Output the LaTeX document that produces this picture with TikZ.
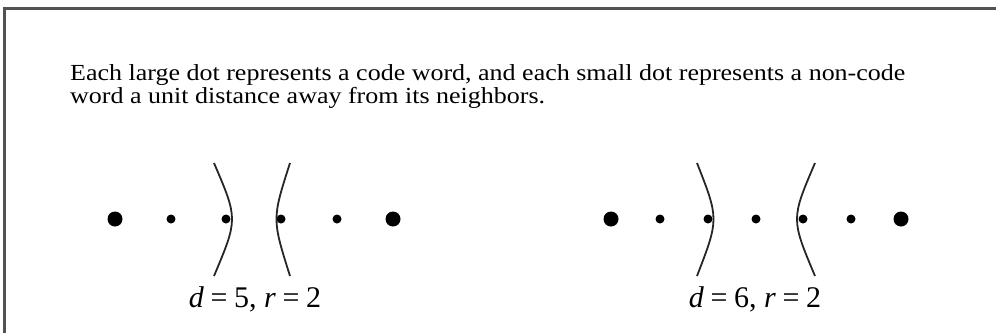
\documentclass[tikz,border=0pt]{standalone}
\usepackage{fontspec}
\setmainfont{Liberation Serif}
\usetikzlibrary{calc,positioning}

\begin{document}
\begin{tikzpicture}[
  x=1pt, y=-1pt,
  frameline/.style={draw=black!68, line width=3pt},
  bigdot/.style={circle, fill=black, inner sep=0pt, minimum size=15pt},
  smalldot/.style={circle, fill=black, inner sep=0pt, minimum size=9pt},
  bound/.style={draw=black!85, line width=1.8pt},
  caption/.style={font=\fontsize{23}{25}\selectfont, anchor=base west, inner sep=0pt},
  lbl/.style={font=\fontsize{30}{32}\selectfont, anchor=base, inner sep=0pt},
]
\useasboundingbox (0,0) rectangle (996,333);

% Frame (top and left edges only)
\draw[frameline] (4,333) -- (4,8) -- (996,8);

% Caption
\node[caption] (text1) at (70,80) {\scalebox{1.13}[1]{Each large dot represents a code word, and each small dot represents a non-code}};
\node[caption] (text2) at (70,103) {\scalebox{1.13}[1]{word a unit distance away from its neighbors.}};

% Left row, d=5
\node[bigdot]   (l1) at (115,219) {};
\node[smalldot] (l2) at (171,219) {};
\node[smalldot] (l3) at (226,219) {};
\node[smalldot] (l4) at (281,219) {};
\node[smalldot] (l5) at (337,219) {};
\node[bigdot]   (l6) at (393,219) {};
\draw[bound] ($(l3)+(-12,-56)$) .. controls ($(l3)+(12,0)$) .. ($(l3)+(-12,57)$);
\draw[bound] ($(l4)+(9,-56)$) .. controls ($(l4)+(-9,0)$) .. ($(l4)+(9,57)$);
\node[lbl] (lab5) at (255,307) {\textit{d}\hspace{0.22em}=\hspace{0.22em}5, \textit{r}\hspace{0.22em}=\hspace{0.22em}2};

% Right row, d=6
\node[bigdot]   (r1) at (611,219) {};
\node[smalldot] (r2) at (660,219) {};
\node[smalldot] (r3) at (708,219) {};
\node[smalldot] (r4) at (756,219) {};
\node[smalldot] (r5) at (803,219) {};
\node[smalldot] (r6) at (851,219) {};
\node[bigdot]   (r7) at (901,219) {};
\draw[bound] ($(r3)+(-11,-56)$) .. controls ($(r3)+(11,0)$) .. ($(r3)+(-11,57)$);
\draw[bound] ($(r5)+(12,-56)$) .. controls ($(r5)+(-12,0)$) .. ($(r5)+(12,57)$);
\node[lbl] (lab6) at (755,307) {\textit{d}\hspace{0.22em}=\hspace{0.22em}6, \textit{r}\hspace{0.22em}=\hspace{0.22em}2};
\end{tikzpicture}
\end{document}
